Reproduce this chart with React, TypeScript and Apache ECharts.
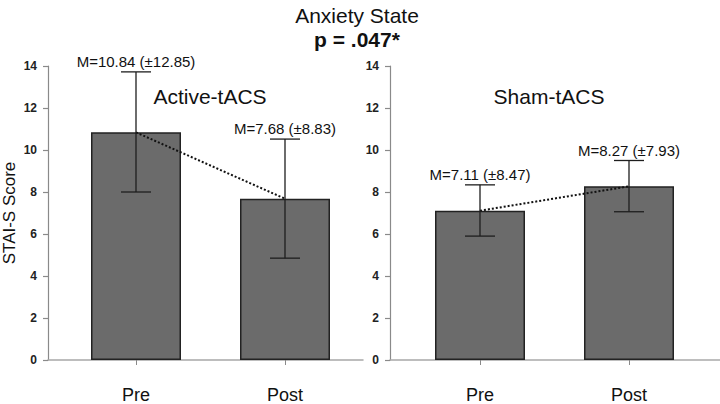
import React, { useEffect, useRef } from "react";
import * as echarts from "echarts";

// Conditions on the x axis of each panel
const categories = ["Pre", "Post"];

// Active-tACS group: means, SDs and error-bar bounds
const activeMean = [10.84, 7.68];
const activeSd = [12.85, 8.83];
const activeErrLow = [8.0, 4.85];
const activeErrHigh = [13.72, 10.52];

// Sham-tACS group
const shamMean = [7.11, 8.27];
const shamSd = [8.47, 7.93];
const shamErrLow = [5.9, 7.06];
const shamErrHigh = [8.34, 9.5];

// Y scale
const yMin = 0;
const yMax = 14;
const yStep = 2;

const FONT = "'Liberation Sans', Arial, Helvetica, sans-serif";

function errorData(mean: number[], sd: number[], lo: number[], hi: number[]) {
  return categories.map((_, i) => [i, lo[i], hi[i], mean[i], sd[i]]);
}

function renderErrorBar(params: any, api: any) {
  const idx = api.value(0);
  const lo = api.value(1);
  const hi = api.value(2);
  const mean = api.value(3);
  const sd = api.value(4);
  const pLo = api.coord([idx, lo]);
  const pHi = api.coord([idx, hi]);
  const half = 15;
  const stroke = { stroke: "#1e1e1e", lineWidth: 1.3 };
  const text = `M=${Number(mean).toFixed(2)} (±${Number(sd).toFixed(2)})`;
  return {
    type: "group",
    children: [
      { type: "line", shape: { x1: pLo[0], y1: pLo[1], x2: pHi[0], y2: pHi[1] }, style: stroke },
      { type: "line", shape: { x1: pLo[0] - half, y1: pLo[1], x2: pLo[0] + half, y2: pLo[1] }, style: stroke },
      { type: "line", shape: { x1: pHi[0] - half, y1: pHi[1], x2: pHi[0] + half, y2: pHi[1] }, style: stroke },
      {
        type: "text",
        x: pHi[0],
        y: pHi[1] - 3,
        style: {
          text,
          fontSize: 15,
          fontFamily: FONT,
          fill: "#111",
          align: "center",
          verticalAlign: "bottom",
          textAlign: "center",
          textVerticalAlign: "bottom",
        },
      },
    ],
  };
}

export default function App() {
  const ref = useRef<HTMLDivElement>(null);

  useEffect(() => {
    if (!ref.current) return;
    const chart = echarts.init(ref.current, undefined, { renderer: "svg" });

    const top = 66;
    const height = 294;

    const frameX = (gridIndex: number) => ({
      type: "value",
      gridIndex,
      min: 0,
      max: 1,
      axisLine: { show: true, lineStyle: { color: "#a8a8a8", width: 1.5 } },
      axisTick: { show: false },
      axisLabel: { show: false },
      splitLine: { show: false },
    });

    const frameY = (gridIndex: number, withName: boolean) => ({
      type: "value",
      gridIndex,
      min: yMin,
      max: yMax,
      interval: yStep,
      axisLine: { show: true, lineStyle: { color: "#8a8a8a", width: 1.2 } },
      axisTick: { show: true, length: 5, lineStyle: { color: "#8a8a8a", width: 1.2 } },
      axisLabel: { margin: 11, fontSize: 12, fontWeight: "bold", color: "#222", fontFamily: FONT },
      splitLine: { show: false },
      name: withName ? "STAI-S Score" : "",
      nameLocation: "middle",
      nameGap: 30,
      nameTextStyle: { fontSize: 17, color: "#111", fontFamily: FONT },
    });

    const barX = (gridIndex: number) => ({
      type: "category",
      gridIndex,
      data: categories,
      offset: 15,
      axisLine: { show: false },
      axisTick: { show: true, alignWithLabel: true, length: 5, lineStyle: { color: "#8a8a8a", width: 1 } },
      axisLabel: { margin: 11, fontSize: 18, color: "#111", fontFamily: FONT },
      splitLine: { show: false },
    });

    const barY = (gridIndex: number) => ({
      type: "value",
      gridIndex,
      min: yMin,
      max: yMax,
      show: false,
    });

    const barSeries = (axisIndex: number, data: number[]) => ({
      type: "bar",
      xAxisIndex: axisIndex,
      yAxisIndex: axisIndex,
      data,
      barWidth: 90,
      itemStyle: { color: "#6b6b6b", borderColor: "#222", borderWidth: 1.5 },
      z: 2,
    });

    const trendSeries = (axisIndex: number, data: number[]) => ({
      type: "line",
      xAxisIndex: axisIndex,
      yAxisIndex: axisIndex,
      data,
      symbol: "none",
      lineStyle: { type: "dotted", color: "#111", width: 2 },
      z: 3,
    });

    const errSeries = (axisIndex: number, data: number[][]) => ({
      type: "custom",
      xAxisIndex: axisIndex,
      yAxisIndex: axisIndex,
      data,
      renderItem: renderErrorBar,
      z: 4,
    });

    chart.setOption({
      animation: false,
      backgroundColor: "#ffffff",
      title: [
        {
          text: "Anxiety State",
          left: 352,
          top: 0,
          textAlign: "center",
          textStyle: { fontSize: 21, fontWeight: "normal", color: "#111", fontFamily: FONT },
        },
        {
          text: "p = .047*",
          left: 352,
          top: 24,
          textAlign: "center",
          textStyle: { fontSize: 21, fontWeight: "bold", color: "#111", fontFamily: FONT },
        },
        {
          text: "Active-tACS",
          left: 205,
          top: 81,
          textAlign: "center",
          textStyle: { fontSize: 21, fontWeight: "normal", color: "#111", fontFamily: FONT },
        },
        {
          text: "Sham-tACS",
          left: 544,
          top: 81,
          textAlign: "center",
          textStyle: { fontSize: 21, fontWeight: "normal", color: "#111", fontFamily: FONT },
        },
      ],
      grid: [
        { left: 45, top, width: 318, height },
        { left: 61.5, top, width: 298, height },
        { left: 390, top, width: 330, height },
        { left: 405.5, top, width: 298, height },
      ],
      xAxis: [frameX(0), barX(1), frameX(2), barX(3)],
      yAxis: [frameY(0, true), barY(1), frameY(2, false), barY(3)],
      series: [
        barSeries(1, activeMean),
        trendSeries(1, activeMean),
        errSeries(1, errorData(activeMean, activeSd, activeErrLow, activeErrHigh)),
        barSeries(3, shamMean),
        trendSeries(3, shamMean),
        errSeries(3, errorData(shamMean, shamSd, shamErrLow, shamErrHigh)),
      ],
    });

    return () => chart.dispose();
  }, []);

  return (
    <div
      ref={ref}
      style={{ position: "fixed", left: 0, top: 0, width: 720, height: 404 }}
    />
  );
}
